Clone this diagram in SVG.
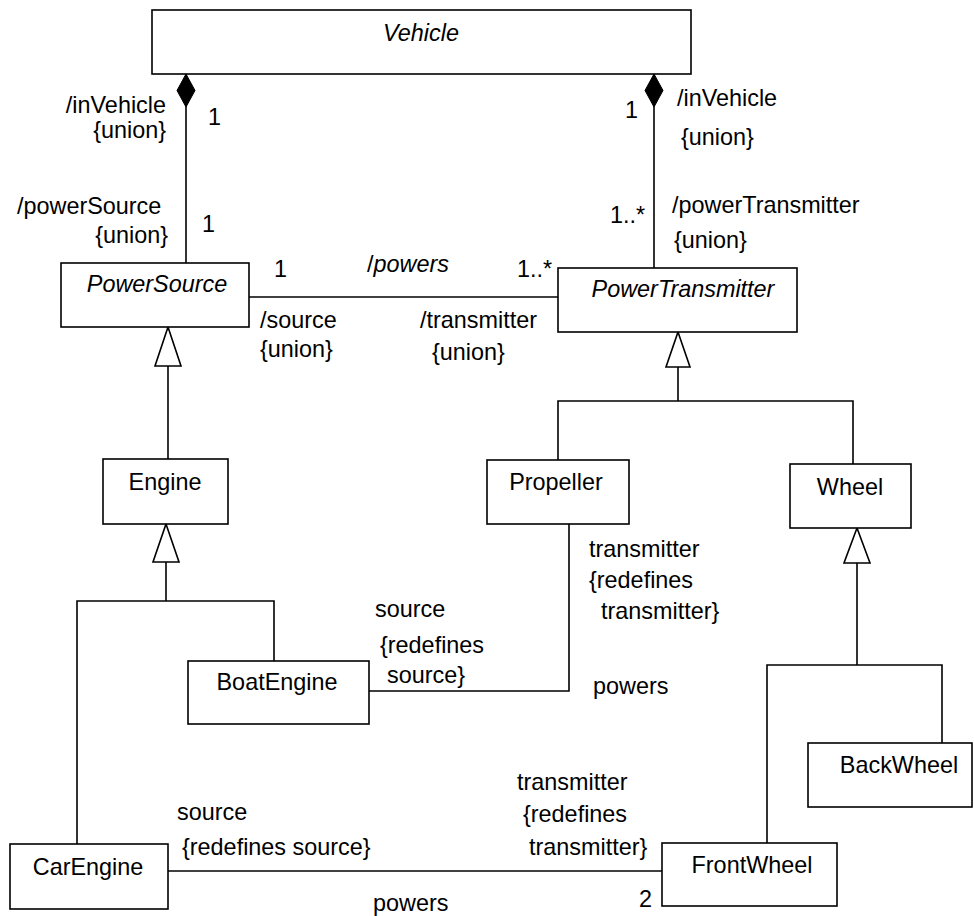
<svg xmlns="http://www.w3.org/2000/svg" width="974" height="916" viewBox="0 0 974 916">
  <style>
    rect.cls { fill: #ffffff; stroke: #000000; stroke-width: 1.6; }
    .edge { fill: none; stroke: #000000; stroke-width: 1.6; }
    .gen { fill: #ffffff; stroke: #000000; stroke-width: 1.6; }
    .comp { fill: #000000; stroke: #000000; stroke-width: 1; }
    text { font-family: "Liberation Sans", Arial, sans-serif; font-size: 23.4px; fill: #000000; }
    .name { text-anchor: middle; }
    .abstract { font-style: italic; }
    .it { font-style: italic; }
  </style>
  <rect width="974" height="916" fill="#ffffff"/>

  <!-- associations and generalizations -->
  <g id="connectors">
    <!-- composition Vehicle -> PowerSource -->
    <line class="edge" x1="186" y1="74" x2="186" y2="263"/>
    <polygon class="comp" points="186,74 195,90.5 186,107 177,90.5"/>
    <!-- composition Vehicle -> PowerTransmitter -->
    <line class="edge" x1="654" y1="74" x2="654" y2="268"/>
    <polygon class="comp" points="654,74 663,90.5 654,107 645,90.5"/>
    <!-- /powers -->
    <line class="edge" x1="249" y1="297" x2="558" y2="297"/>

    <!-- PowerSource <- Engine -->
    <line class="edge" x1="168" y1="366" x2="168" y2="459"/>
    <polygon class="gen" points="168,327 181,366 155,366"/>

    <!-- Engine <- BoatEngine, CarEngine -->
    <polyline class="edge" points="166,562 166,601"/>
    <polyline class="edge" points="77,844 77,601 274,601 274,661"/>
    <polygon class="gen" points="166,524 179,562 153,562"/>

    <!-- BoatEngine - Propeller -->
    <polyline class="edge" points="369,691 569,691 569,524"/>

    <!-- PowerTransmitter <- Propeller, Wheel -->
    <polyline class="edge" points="678,367 678,401"/>
    <polyline class="edge" points="558,460 558,401 853,401 853,464"/>
    <polygon class="gen" points="678,332 690,367 666,367"/>

    <!-- Wheel <- BackWheel, FrontWheel -->
    <polyline class="edge" points="857,563 857,665"/>
    <polyline class="edge" points="767,843 767,665 942,665 942,743"/>
    <polygon class="gen" points="857,528 870,563 844,563"/>

    <!-- CarEngine - FrontWheel -->
    <line class="edge" x1="168" y1="871" x2="662" y2="871"/>
  </g>

  <!-- association end labels -->
  <g id="labels">
    <text x="166" y="113" text-anchor="end">/inVehicle</text>
    <text x="166" y="138" text-anchor="end">{union}</text>
    <text x="208" y="125">1</text>

    <text x="625" y="118">1</text>
    <text x="677" y="106">/inVehicle</text>
    <text x="681" y="145">{union}</text>

    <text x="17" y="214">/powerSource</text>
    <text x="168" y="243" text-anchor="end">{union}</text>
    <text x="202" y="232">1</text>

    <text x="274" y="277">1</text>
    <text x="367" y="272">/<tspan class="it">powers</tspan></text>
    <text x="517" y="277">1..*</text>
    <text x="260" y="328">/source</text>
    <text x="260" y="357">{union}</text>
    <text x="420" y="328">/transmitter</text>
    <text x="432" y="360">{union}</text>

    <text x="610" y="223">1..*</text>
    <text x="672" y="213">/powerTransmitter</text>
    <text x="674" y="248">{union}</text>

    <text x="375" y="617">source</text>
    <text x="380" y="653">{redefines</text>
    <text x="387" y="683">source}</text>

    <text x="589" y="557">transmitter</text>
    <text x="589" y="588">{redefines</text>
    <text x="601" y="619">transmitter}</text>
    <text x="593" y="694">powers</text>

    <text x="177" y="820">source</text>
    <text x="182" y="855">{redefines source}</text>
    <text x="517" y="790">transmitter</text>
    <text x="523" y="822">{redefines</text>
    <text x="529" y="855">transmitter}</text>
    <text x="373" y="911">powers</text>
    <text x="639" y="907">2</text>
  </g>

  <!-- classes -->
  <g id="Vehicle">
    <rect class="cls" x="152" y="10" width="539" height="64"/>
    <text class="name abstract" x="421" y="41">Vehicle</text>
  </g>
  <g id="PowerSource">
    <rect class="cls" x="61" y="263" width="188" height="64"/>
    <text class="name abstract" x="157" y="292">PowerSource</text>
  </g>
  <g id="PowerTransmitter">
    <rect class="cls" x="558" y="268" width="239" height="64"/>
    <text class="name abstract" x="683" y="297">PowerTransmitter</text>
  </g>
  <g id="Engine">
    <rect class="cls" x="103" y="459" width="125" height="65"/>
    <text class="name" x="165" y="490">Engine</text>
  </g>
  <g id="Propeller">
    <rect class="cls" x="487" y="460" width="142" height="64"/>
    <text class="name" x="556" y="490">Propeller</text>
  </g>
  <g id="Wheel">
    <rect class="cls" x="790" y="464" width="121" height="64"/>
    <text class="name" x="850" y="495">Wheel</text>
  </g>
  <g id="BoatEngine">
    <rect class="cls" x="188" y="661" width="181" height="63"/>
    <text class="name" x="277" y="690">BoatEngine</text>
  </g>
  <g id="BackWheel">
    <rect class="cls" x="808" y="743" width="164" height="64"/>
    <text class="name" x="899" y="773">BackWheel</text>
  </g>
  <g id="CarEngine">
    <rect class="cls" x="10" y="844" width="158" height="65"/>
    <text class="name" x="88" y="875">CarEngine</text>
  </g>
  <g id="FrontWheel">
    <rect class="cls" x="662" y="843" width="175" height="63"/>
    <text class="name" x="752" y="873">FrontWheel</text>
  </g>
</svg>
